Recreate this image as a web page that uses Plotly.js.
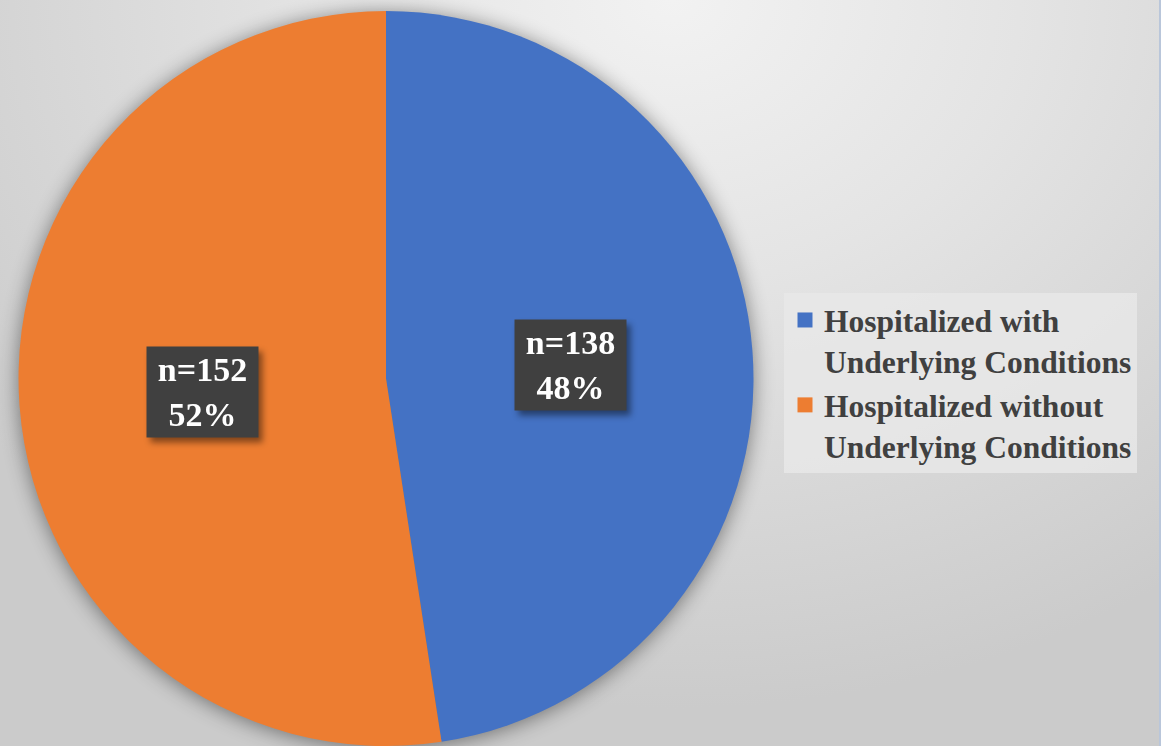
<!DOCTYPE html>
<html>
<head>
<meta charset="utf-8">
<script src="https://cdn.plot.ly/plotly-3.0.1.min.js"></script>
<style>
  html, body { margin: 0; padding: 0; }
  #chart {
    width: 1161px; height: 746px;
    background: radial-gradient(ellipse 75% 95% at 58% 0%, #f2f2f2 0%, #e4e4e4 40%, #cbcbcb 100%);
    box-sizing: border-box;
    border-right: 2px solid #b9c6da;
  }
  .pielayer { filter: drop-shadow(0px 2px 10px rgba(0,0,0,0.45)); }
  .annotation-text-g { filter: drop-shadow(4px 5px 3px rgba(0,0,0,0.45)); }
  .legend .legendpie { transform: translate(21px, 0px) scale(1.25); }
</style>
</head>
<body>
<div id="chart"></div>
<script>
const categories = ["Hospitalized with<br>Underlying Conditions", "Hospitalized without<br>Underlying Conditions"];
const counts = [138, 152];
const colors = ["#4472C4", "#ED7D31"];

const total = counts.reduce((a, b) => a + b, 0);
const pct = counts.map(v => Math.round(100 * v / total));
const labelPos = [[0.4918, 0.5107], [0.1748, 0.4745]];

const data = [{
  type: "pie",
  labels: categories,
  values: counts,
  sort: false,
  direction: "clockwise",
  rotation: 0,
  textinfo: "none",
  hoverinfo: "label+value+percent",
  marker: { colors: colors, line: { width: 0 } },
  domain: { x: [18 / 1161, 754 / 1161], y: [0, 735 / 746] }
}];

const annotations = counts.map((v, i) => ({
  xref: "paper", yref: "paper",
  x: labelPos[i][0], y: labelPos[i][1],
  xanchor: "center", yanchor: "middle",
  showarrow: false,
  text: "n=" + v + "<br>" + pct[i] + "%",
  font: { family: "Liberation Serif, Times New Roman, serif", size: 34, color: "#ffffff", weight: "bold" },
  bgcolor: "#404040",
  width: 103, height: 82, borderpad: 4,
  align: "center"
}));

const layout = {
  width: 1161, height: 746,
  margin: { l: 0, r: 0, t: 0, b: 0 },
  paper_bgcolor: "rgba(0,0,0,0)",
  plot_bgcolor: "rgba(0,0,0,0)",
  showlegend: true,
  legend: {
    x: 784 / 1161, y: (746 - 293) / 746,
    xanchor: "left", yanchor: "top",
    bgcolor: "rgba(232,232,232,0.85)",
    font: { family: "Liberation Serif, Times New Roman, serif", size: 31.5, color: "#404040", weight: "bold" },
    itemwidth: 30,
    valign: "top",
    traceorder: "normal"
  },
  annotations: annotations
};

Plotly.newPlot("chart", data, layout, { displayModeBar: false, staticPlot: true });
</script>
</body>
</html>
